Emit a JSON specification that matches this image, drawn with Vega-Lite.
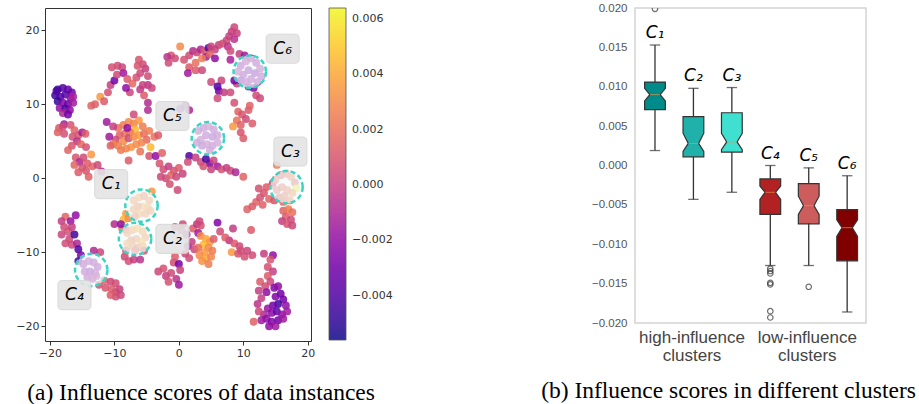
{
  "$schema": "https://vega.github.io/schema/vega-lite/v6.json",
  "background": "white",
  "padding": {"left": 15, "top": 1, "right": 0, "bottom": 0},
  "bounds": "flush",
  "spacing": 324,
  "config": {"font": "DejaVu Sans", "axis": {"labelOverlap": false}},
  "resolve": {"legend": {"color": "independent"}, "scale": {"color": "independent"}},
  "hconcat": [
    {
      "width": 266,
      "height": 333,
      "view": {"stroke": "#333", "strokeWidth": 1},
      "title": {"text": "(a) Influence scores of data instances", "orient": "bottom", "anchor": "middle", "frame": "group", "font": "Liberation Serif", "fontSize": 23.5, "fontWeight": "normal", "color": "#000", "dx": 23, "offset": 23},
      "layer": [
        {
          "data": {"values": [
            {"x":-18.8,"y":12.0,"s":-0.0045},{"x":-18.0,"y":12.2,"s":-0.004},{"x":-17.2,"y":12.0,"s":-0.0035},{"x":-16.6,"y":11.6,"s":-0.003},{"x":-19.2,"y":11.2,"s":-0.0045},{"x":-18.4,"y":11.0,"s":-0.004},{"x":-17.6,"y":11.3,"s":-0.0038},{"x":-16.8,"y":10.8,"s":-0.002},{"x":-18.8,"y":10.4,"s":-0.0048},{"x":-18.0,"y":10.2,"s":-0.0025},{"x":-17.2,"y":10.0,"s":-0.003},{"x":-16.4,"y":10.2,"s":-0.0015},{"x":-18.5,"y":9.5,"s":-0.002},{"x":-17.6,"y":9.4,"s":-0.0042},{"x":-16.9,"y":9.2,"s":-0.002},{"x":-18.0,"y":8.8,"s":-0.001},{"x":-17.2,"y":8.6,"s":-0.003},{"x":-19.0,"y":11.8,"s":-0.004},{"x":-16.4,"y":11.0,"s":-0.0012},{"x":-17.8,"y":7.3,"s":-0.0015},
            {"x":-18.6,"y":6.8,"s":0.0012},{"x":-18.0,"y":7.0,"s":0.0005},{"x":-18.8,"y":6.2,"s":0.0015},{"x":-17.8,"y":6.0,"s":0.0008},{"x":-16.8,"y":7.2,"s":0.001},{"x":-16.2,"y":6.5,"s":0.0015},{"x":-16.5,"y":5.6,"s":0.0008},{"x":-15.6,"y":5.8,"s":0.001},{"x":-15.0,"y":6.2,"s":-0.0015},{"x":-15.8,"y":5.0,"s":-0.0005},{"x":-14.5,"y":6.0,"s":0.0012},{"x":-15.2,"y":4.6,"s":0.0018},{"x":-16.6,"y":4.4,"s":0.001},{"x":-17.2,"y":3.8,"s":0.0015},{"x":-14.4,"y":4.2,"s":0.0008},
            {"x":-16.0,"y":2.8,"s":0.001},{"x":-15.4,"y":2.2,"s":-0.001},{"x":-14.8,"y":2.8,"s":0.0005},{"x":-14.2,"y":2.0,"s":0.0012},{"x":-15.0,"y":1.4,"s":0.0008},{"x":-16.2,"y":1.8,"s":0.0016},{"x":-13.4,"y":1.6,"s":0.0015},{"x":-14.4,"y":1.0,"s":0.001},{"x":-13.6,"y":3.2,"s":0.0035},{"x":-15.6,"y":0.8,"s":0.0012},{"x":-12.6,"y":1.8,"s":0.0005},{"x":-14.0,"y":0.2,"s":0.0014},{"x":-12.0,"y":0.9,"s":-0.0008},
            {"x":-13.6,"y":9.8,"s":0.0016},{"x":-13.0,"y":10.0,"s":0.0014},{"x":-12.2,"y":11.0,"s":0.0035},{"x":-11.6,"y":10.4,"s":0.0012},{"x":-11.0,"y":11.6,"s":0.0008},{"x":-10.6,"y":12.6,"s":0.0},{"x":-10.0,"y":13.2,"s":-0.003},{"x":-9.6,"y":14.0,"s":0.0005},{"x":-10.4,"y":15.0,"s":0.0008},{"x":-9.5,"y":15.2,"s":0.0006},{"x":-8.8,"y":15.0,"s":0.0004},{"x":-8.6,"y":14.2,"s":-0.0015},{"x":-8.0,"y":13.4,"s":0.0012},{"x":-7.2,"y":12.8,"s":0.0018},{"x":-6.6,"y":13.6,"s":0.0008},{"x":-6.0,"y":14.2,"s":0.0004},{"x":-5.2,"y":14.8,"s":0.0},{"x":-5.6,"y":15.4,"s":0.0005},{"x":-6.4,"y":15.2,"s":0.001},{"x":-4.8,"y":13.8,"s":0.0006},{"x":-4.8,"y":12.6,"s":-0.0005},{"x":-5.6,"y":12.6,"s":0.0002},{"x":-6.0,"y":12.0,"s":-0.0002},{"x":-4.2,"y":12.2,"s":0.0003},{"x":-5.4,"y":11.2,"s":0.0012},{"x":-4.8,"y":10.2,"s":-0.0008},{"x":-4.8,"y":9.2,"s":-0.0008},{"x":-7.6,"y":11.6,"s":0.0004},{"x":-8.2,"y":12.2,"s":-0.002},{"x":-6.2,"y":16.0,"s":0.001},
            {"x":-9.4,"y":6.8,"s":0.002},{"x":-8.6,"y":7.2,"s":0.0025},{"x":-7.8,"y":7.6,"s":0.003},{"x":-7.0,"y":7.4,"s":0.0028},{"x":-6.2,"y":7.8,"s":0.0035},{"x":-5.6,"y":7.0,"s":0.0025},{"x":-6.8,"y":6.6,"s":0.0045},{"x":-7.6,"y":6.2,"s":0.0022},{"x":-8.4,"y":6.0,"s":0.002},{"x":-9.2,"y":5.8,"s":0.0015},{"x":-9.8,"y":5.2,"s":0.0005},{"x":-10.2,"y":4.6,"s":0.003},{"x":-9.4,"y":4.4,"s":0.0025},{"x":-8.6,"y":5.0,"s":0.003},{"x":-7.8,"y":5.4,"s":0.0005},{"x":-7.0,"y":5.6,"s":0.003},{"x":-6.2,"y":5.8,"s":0.0035},{"x":-5.4,"y":6.0,"s":0.002},{"x":-4.6,"y":6.4,"s":0.0025},{"x":-5.0,"y":5.2,"s":0.0018},{"x":-5.8,"y":4.8,"s":0.0028},{"x":-6.6,"y":4.6,"s":0.003},{"x":-7.4,"y":4.2,"s":0.0032},{"x":-8.2,"y":4.0,"s":0.0028},{"x":-9.0,"y":3.8,"s":0.0025},{"x":-6.0,"y":3.6,"s":0.0022},{"x":-4.4,"y":4.2,"s":0.0045},{"x":-3.8,"y":5.6,"s":0.0022},{"x":-3.2,"y":5.8,"s":0.0012},{"x":-7.0,"y":8.6,"s":0.0005},{"x":-8.0,"y":6.8,"s":-0.002},{"x":-4.6,"y":3.0,"s":0.0008},{"x":-7.8,"y":2.4,"s":0.0012},{"x":-10.6,"y":4.4,"s":0.0015},{"x":-11.2,"y":7.6,"s":-0.0015},{"x":-10.8,"y":5.6,"s":-0.0015},{"x":-10.2,"y":7.0,"s":0.0},
            {"x":0.2,"y":17.8,"s":0.003},{"x":-1.2,"y":16.6,"s":0.001},{"x":-0.6,"y":16.2,"s":0.0005},{"x":-1.8,"y":16.4,"s":-0.0005},{"x":0.8,"y":16.0,"s":0.0008},{"x":1.6,"y":16.6,"s":0.0006},{"x":2.2,"y":17.2,"s":-0.0008},{"x":2.8,"y":17.0,"s":0.0004},{"x":3.4,"y":17.4,"s":-0.001},{"x":4.0,"y":17.2,"s":0.0012},{"x":4.6,"y":17.6,"s":-0.004},{"x":5.0,"y":17.8,"s":0.0004},{"x":5.6,"y":17.4,"s":0.0002},{"x":6.2,"y":18.0,"s":0.0},{"x":6.8,"y":18.2,"s":0.0008},{"x":7.4,"y":18.6,"s":0.0004},{"x":7.8,"y":19.2,"s":0.0002},{"x":8.2,"y":19.8,"s":0.0},{"x":8.6,"y":20.4,"s":0.0004},{"x":9.0,"y":19.6,"s":0.0002},{"x":8.6,"y":18.8,"s":-0.0005},{"x":7.6,"y":17.8,"s":-0.0005},{"x":4.2,"y":16.4,"s":-0.0015},{"x":3.6,"y":16.2,"s":0.0025},{"x":2.6,"y":15.6,"s":0.002},{"x":1.6,"y":15.0,"s":0.0012},{"x":1.4,"y":14.2,"s":-0.0015},{"x":2.6,"y":14.6,"s":0.0012},{"x":3.6,"y":14.6,"s":0.0004},{"x":-1.6,"y":15.6,"s":0.0005},{"x":4.8,"y":16.8,"s":0.0015},{"x":5.6,"y":16.2,"s":-0.002},{"x":8.0,"y":16.0,"s":-0.0012},{"x":9.4,"y":16.8,"s":0.0},{"x":8.0,"y":17.2,"s":0.0005},
            {"x":5.0,"y":13.0,"s":0.0005},{"x":6.6,"y":13.2,"s":0.0003},{"x":6.0,"y":12.4,"s":-0.004},{"x":6.2,"y":11.8,"s":-0.003},{"x":7.0,"y":11.6,"s":0.0},{"x":6.0,"y":10.8,"s":0.0006},{"x":8.0,"y":11.6,"s":0.0005},{"x":9.0,"y":12.8,"s":0.0002},{"x":8.6,"y":10.2,"s":0.0008},{"x":8.6,"y":13.2,"s":-0.003},
            {"x":9.2,"y":9.0,"s":0.0015},{"x":9.8,"y":8.6,"s":0.001},{"x":10.4,"y":8.0,"s":0.0005},{"x":9.0,"y":7.8,"s":0.002},{"x":8.4,"y":7.0,"s":0.0035},{"x":9.6,"y":7.2,"s":0.0015},{"x":11.4,"y":7.4,"s":0.0012},{"x":10.8,"y":9.2,"s":0.0012},{"x":12.0,"y":11.2,"s":0.0006},{"x":12.6,"y":10.8,"s":0.0005},{"x":9.6,"y":6.2,"s":0.001},{"x":10.0,"y":5.4,"s":0.0012},{"x":11.0,"y":9.8,"s":0.0015},
            {"x":9.6,"y":15.2,"s":-0.002},{"x":10.4,"y":15.8,"s":-0.0015},{"x":11.2,"y":16.2,"s":-0.0018},{"x":12.0,"y":15.6,"s":-0.002},{"x":12.6,"y":14.8,"s":-0.0015},{"x":11.8,"y":14.2,"s":-0.003},{"x":10.8,"y":14.6,"s":-0.0025},{"x":10.0,"y":14.0,"s":-0.002},{"x":9.6,"y":13.2,"s":-0.003},{"x":10.4,"y":13.0,"s":-0.0015},{"x":11.2,"y":13.4,"s":-0.002},{"x":12.2,"y":13.0,"s":-0.0018},{"x":11.6,"y":12.2,"s":-0.0025},{"x":10.8,"y":12.4,"s":-0.0015},{"x":12.8,"y":13.8,"s":-0.002},{"x":9.2,"y":14.4,"s":-0.0012},{"x":10.2,"y":16.6,"s":-0.0015},
            {"x":3.0,"y":6.4,"s":-0.0015},{"x":3.8,"y":6.8,"s":-0.002},{"x":4.6,"y":7.0,"s":-0.0012},{"x":5.4,"y":6.6,"s":-0.002},{"x":6.0,"y":5.8,"s":-0.0018},{"x":5.2,"y":5.6,"s":-0.0025},{"x":4.2,"y":5.8,"s":-0.002},{"x":3.4,"y":5.2,"s":-0.0015},{"x":2.8,"y":4.8,"s":-0.002},{"x":3.6,"y":4.4,"s":-0.0025},{"x":4.4,"y":4.6,"s":-0.0015},{"x":5.2,"y":4.4,"s":-0.0018},{"x":6.0,"y":4.8,"s":-0.0015},{"x":4.8,"y":3.8,"s":-0.002},{"x":1.0,"y":9.8,"s":-0.0015},{"x":0.2,"y":9.4,"s":-0.002},{"x":1.6,"y":9.2,"s":-0.001},
            {"x":1.6,"y":3.0,"s":-0.004},{"x":2.6,"y":2.8,"s":0.0},{"x":3.4,"y":2.2,"s":0.0005},{"x":4.2,"y":2.6,"s":-0.0045},{"x":4.8,"y":2.0,"s":-0.003},{"x":5.4,"y":2.4,"s":0.0004},{"x":6.0,"y":1.6,"s":-0.0015},{"x":6.6,"y":1.2,"s":0.0008},{"x":7.4,"y":1.4,"s":0.0},{"x":8.0,"y":1.0,"s":0.0005},{"x":8.8,"y":0.8,"s":-0.001},{"x":10.0,"y":0.2,"s":0.0015},{"x":5.0,"y":1.2,"s":0.0002},{"x":3.8,"y":1.6,"s":0.0008},
            {"x":-3.0,"y":2.0,"s":0.001},{"x":-2.4,"y":1.2,"s":0.0006},{"x":-1.6,"y":1.6,"s":0.0},{"x":-0.8,"y":1.0,"s":0.0008},{"x":0.0,"y":1.4,"s":0.0012},{"x":-2.8,"y":0.2,"s":0.0004},{"x":-2.0,"y":0.0,"s":0.0005},{"x":-1.2,"y":0.4,"s":0.0016},{"x":-0.4,"y":0.2,"s":0.0004},{"x":0.6,"y":0.6,"s":0.0002},{"x":-1.4,"y":-0.8,"s":0.0008},{"x":-0.2,"y":-1.6,"s":0.0005},{"x":-3.6,"y":3.0,"s":-0.002},{"x":1.4,"y":2.2,"s":0.0006},{"x":-2.6,"y":3.4,"s":0.0015},
            {"x":10.6,"y":-4.2,"s":0.0015},{"x":11.4,"y":-3.8,"s":0.0012},{"x":12.0,"y":-3.2,"s":0.0015},{"x":12.6,"y":-2.6,"s":0.0008},{"x":13.2,"y":-2.0,"s":0.001},{"x":13.6,"y":-1.2,"s":0.0012},{"x":14.4,"y":-1.0,"s":0.0018},{"x":13.0,"y":-3.6,"s":0.0014},{"x":14.0,"y":-2.8,"s":0.0016},{"x":14.8,"y":-3.0,"s":0.001},{"x":12.4,"y":-1.4,"s":0.0008},{"x":14.6,"y":-0.6,"s":0.0003},{"x":11.2,"y":-7.0,"s":0.0012},{"x":15.2,"y":1.8,"s":0.0025},
            {"x":15.0,"y":-0.2,"s":0.002},{"x":15.8,"y":0.4,"s":0.0015},{"x":16.6,"y":0.6,"s":0.002},{"x":17.4,"y":0.2,"s":0.0025},{"x":18.0,"y":-0.6,"s":0.0015},{"x":18.2,"y":-1.4,"s":0.006},{"x":17.6,"y":-2.0,"s":0.003},{"x":16.8,"y":-1.6,"s":0.0025},{"x":16.0,"y":-1.2,"s":0.002},{"x":15.2,"y":-1.6,"s":0.0018},{"x":15.6,"y":-2.6,"s":0.0015},{"x":16.4,"y":-2.4,"s":0.002},{"x":17.2,"y":-3.0,"s":0.0025},{"x":16.2,"y":-3.2,"s":0.0018},
            {"x":16.2,"y":-4.4,"s":0.0015},{"x":17.0,"y":-4.2,"s":0.0025},{"x":17.6,"y":-4.6,"s":0.002},{"x":16.6,"y":-5.2,"s":0.0012},{"x":17.4,"y":-5.6,"s":0.0005},{"x":16.0,"y":-5.8,"s":0.0},{"x":16.8,"y":-6.2,"s":0.0008},{"x":17.6,"y":-6.4,"s":0.0004},
            {"x":-8.2,"y":-4.8,"s":0.0035},{"x":-8.6,"y":-5.6,"s":0.0045},{"x":-7.8,"y":-5.4,"s":0.003},{"x":-8.8,"y":-6.8,"s":0.002},{"x":-8.2,"y":-7.0,"s":0.0008},{"x":-4.2,"y":-1.8,"s":0.0035},{"x":-10.0,"y":-6.2,"s":-0.0008},
            {"x":-7.0,"y":-3.0,"s":0.003},{"x":-6.2,"y":-2.6,"s":0.0035},{"x":-5.4,"y":-2.4,"s":0.0025},{"x":-4.6,"y":-3.0,"s":0.003},{"x":-4.8,"y":-4.0,"s":0.0035},{"x":-5.6,"y":-3.8,"s":0.004},{"x":-6.4,"y":-3.8,"s":0.0025},{"x":-7.0,"y":-4.2,"s":0.003},{"x":-6.2,"y":-4.8,"s":0.0035},{"x":-5.2,"y":-4.8,"s":0.0028},{"x":-4.4,"y":-4.4,"s":0.003},{"x":-6.8,"y":-5.2,"s":0.0022},
            {"x":-8.0,"y":-7.4,"s":0.003},{"x":-7.2,"y":-7.0,"s":0.0035},{"x":-6.4,"y":-6.8,"s":0.004},{"x":-5.6,"y":-7.2,"s":0.0035},{"x":-5.2,"y":-8.0,"s":0.003},{"x":-5.8,"y":-8.6,"s":0.0045},{"x":-6.6,"y":-8.2,"s":0.003},{"x":-7.4,"y":-8.4,"s":0.0025},{"x":-8.0,"y":-8.8,"s":0.0035},{"x":-7.2,"y":-9.2,"s":0.003},{"x":-6.4,"y":-9.4,"s":0.002},{"x":-5.6,"y":-9.2,"s":0.0035},{"x":-6.8,"y":-9.8,"s":0.0015},{"x":-5.4,"y":-9.8,"s":0.001},
            {"x":-8.4,"y":-10.6,"s":0.0004},{"x":-7.8,"y":-11.2,"s":0.0008},{"x":-7.0,"y":-11.0,"s":0.0},{"x":-6.0,"y":-11.0,"s":-0.0005},{"x":-8.2,"y":-9.8,"s":0.0012},{"x":-9.0,"y":-6.2,"s":-0.002},
            {"x":-3.2,"y":-12.6,"s":0.0004},{"x":-2.4,"y":-12.2,"s":0.0008},{"x":-2.0,"y":-13.2,"s":0.0},{"x":-1.2,"y":-12.8,"s":0.0005},{"x":-1.6,"y":-14.0,"s":0.0008},{"x":-0.4,"y":-13.6,"s":-0.0005},{"x":0.0,"y":-14.4,"s":-0.0015},{"x":-0.8,"y":-11.4,"s":0.0006},{"x":0.0,"y":-11.6,"s":-0.003},{"x":-0.6,"y":-10.6,"s":0.0012},{"x":0.2,"y":-12.4,"s":0.0002},{"x":1.0,"y":-10.2,"s":0.0004},{"x":1.4,"y":-9.2,"s":-0.0015},{"x":2.0,"y":-8.6,"s":0.0},{"x":1.2,"y":-7.6,"s":-0.001},{"x":0.4,"y":-7.0,"s":0.001},{"x":-0.6,"y":-6.6,"s":0.0008},{"x":0.6,"y":-6.2,"s":0.0005},{"x":2.2,"y":-6.8,"s":0.0012},{"x":2.8,"y":-6.2,"s":-0.0003},{"x":3.4,"y":-6.4,"s":0.0008},{"x":3.0,"y":-7.4,"s":-0.0015},{"x":2.4,"y":-9.6,"s":0.0004},{"x":1.6,"y":-10.8,"s":0.0005},{"x":3.2,"y":-5.8,"s":0.0004},
            {"x":3.4,"y":-7.8,"s":0.003},{"x":4.2,"y":-8.2,"s":0.004},{"x":4.8,"y":-8.6,"s":0.0035},{"x":3.8,"y":-9.0,"s":0.0045},{"x":4.6,"y":-9.4,"s":0.003},{"x":5.2,"y":-9.8,"s":0.0025},{"x":4.0,"y":-10.0,"s":0.0035},{"x":3.2,"y":-10.4,"s":0.003},{"x":4.2,"y":-10.8,"s":0.004},{"x":5.0,"y":-10.6,"s":0.0028},{"x":3.6,"y":-11.2,"s":0.0032},{"x":4.6,"y":-11.6,"s":0.0025},{"x":3.0,"y":-9.4,"s":0.002},{"x":5.4,"y":-8.2,"s":0.0012},{"x":6.0,"y":-6.0,"s":-0.0025},
            {"x":8.4,"y":-6.8,"s":0.0},{"x":7.8,"y":-8.4,"s":-0.0005},{"x":8.6,"y":-8.8,"s":0.0012},{"x":9.4,"y":-9.2,"s":0.0005},{"x":8.2,"y":-10.0,"s":0.0035},{"x":9.2,"y":-10.2,"s":0.0008},{"x":10.2,"y":-10.6,"s":0.0008},{"x":11.4,"y":-10.4,"s":0.0006},{"x":10.6,"y":-9.8,"s":0.0003},{"x":9.6,"y":-9.8,"s":0.0006},{"x":7.2,"y":-8.0,"s":0.0012},{"x":6.4,"y":-7.2,"s":0.0006},
            {"x":13.2,"y":-10.2,"s":0.0},{"x":14.6,"y":-10.4,"s":-0.002},{"x":14.2,"y":-11.0,"s":0.001},{"x":13.8,"y":-12.0,"s":0.0008},{"x":14.6,"y":-12.6,"s":0.0},{"x":13.8,"y":-13.2,"s":0.0012},{"x":14.2,"y":-14.0,"s":0.0004},{"x":12.6,"y":-14.0,"s":0.0012},{"x":13.4,"y":-14.6,"s":0.0006},{"x":12.4,"y":-15.2,"s":0.0},{"x":13.6,"y":-15.4,"s":-0.002},{"x":14.8,"y":-14.8,"s":-0.0025},{"x":15.4,"y":-14.6,"s":-0.002},{"x":15.8,"y":-15.6,"s":-0.003},{"x":15.0,"y":-16.0,"s":-0.0025},{"x":16.2,"y":-16.4,"s":-0.003},{"x":15.4,"y":-17.0,"s":-0.0045},{"x":16.6,"y":-17.2,"s":-0.002},{"x":14.6,"y":-17.2,"s":-0.003},{"x":13.8,"y":-17.6,"s":-0.0018},{"x":14.4,"y":-18.2,"s":-0.0022},{"x":15.2,"y":-18.0,"s":-0.0035},{"x":16.0,"y":-18.4,"s":-0.002},{"x":13.2,"y":-18.4,"s":-0.001},{"x":12.4,"y":-18.0,"s":0.0004},{"x":12.8,"y":-19.2,"s":-0.0015},{"x":13.6,"y":-19.0,"s":-0.002},{"x":14.4,"y":-19.4,"s":-0.0025},{"x":15.4,"y":-19.2,"s":-0.003},{"x":16.2,"y":-19.0,"s":-0.0015},{"x":15.0,"y":-20.0,"s":-0.0015},{"x":14.0,"y":-20.0,"s":-0.002},{"x":11.6,"y":-19.4,"s":0.0015},{"x":12.2,"y":-17.0,"s":-0.0005},{"x":16.8,"y":-18.0,"s":-0.0015},{"x":12.8,"y":-16.2,"s":0.0},
            {"x":-17.6,"y":-5.2,"s":0.0015},{"x":-18.2,"y":-5.8,"s":0.0},{"x":-16.8,"y":-5.8,"s":-0.0018},{"x":-17.8,"y":-6.6,"s":0.0006},{"x":-17.2,"y":-7.2,"s":0.0008},{"x":-18.2,"y":-7.6,"s":0.0003},{"x":-17.0,"y":-8.2,"s":0.0004},{"x":-16.2,"y":-7.6,"s":-0.0045},{"x":-16.6,"y":-6.6,"s":0.0},{"x":-17.6,"y":-8.8,"s":0.0006},{"x":-16.6,"y":-9.0,"s":0.0004},{"x":-15.8,"y":-8.8,"s":-0.001},{"x":-15.6,"y":-9.6,"s":-0.004},{"x":-15.2,"y":-10.4,"s":-0.0025},{"x":-15.6,"y":-11.2,"s":-0.0045},{"x":-16.0,"y":-5.0,"s":-0.002},
            {"x":-14.8,"y":-11.6,"s":-0.002},{"x":-14.0,"y":-11.2,"s":-0.0015},{"x":-13.2,"y":-11.4,"s":-0.0018},{"x":-12.6,"y":-12.0,"s":-0.002},{"x":-13.0,"y":-12.8,"s":-0.0015},{"x":-13.8,"y":-12.6,"s":-0.0025},{"x":-14.6,"y":-12.6,"s":-0.002},{"x":-14.2,"y":-13.4,"s":-0.0018},{"x":-13.4,"y":-13.6,"s":-0.0015},{"x":-12.8,"y":-13.2,"s":-0.001},
            {"x":-12.2,"y":-10.0,"s":0.0004},{"x":-13.2,"y":-9.8,"s":-0.0008},{"x":-12.4,"y":-14.4,"s":0.0008},{"x":-11.6,"y":-13.8,"s":0.0015},{"x":-10.6,"y":-14.0,"s":0.0004},{"x":-9.8,"y":-14.2,"s":0.0006},{"x":-10.4,"y":-15.0,"s":0.0012},{"x":-9.8,"y":-15.4,"s":0.0008},{"x":-9.2,"y":-15.0,"s":0.0002},{"x":-9.0,"y":-15.8,"s":0.0004},{"x":-9.8,"y":-16.0,"s":0.0006},{"x":-10.6,"y":-15.8,"s":0.0012},{"x":-11.4,"y":-14.8,"s":0.001}
          ]},
          "mark": {"type": "circle", "size": 62, "opacity": 0.85},
          "encoding": {
            "x": {"field": "x", "type": "quantitative", "scale": {"domain": [-20.77, 20.5], "nice": false, "zero": false},
                  "axis": {"title": null, "values": [-20, -10, 0, 10, 20], "grid": false, "domain": false, "tickColor": "#333", "tickSize": 4, "labelFont": "DejaVu Sans", "labelFontSize": 11, "labelColor": "#333", "labelExpr": "replace(datum.label, '-', '−')"}},
            "y": {"field": "y", "type": "quantitative", "scale": {"domain": [-22, 23], "nice": false, "zero": false},
                  "axis": {"title": null, "values": [-20, -10, 0, 10, 20], "grid": false, "domain": false, "tickColor": "#333", "tickSize": 4, "labelFont": "DejaVu Sans", "labelFontSize": 11, "labelColor": "#333", "labelExpr": "replace(datum.label, '-', '−')"}},
            "color": {"field": "s", "type": "quantitative", "scale": {"scheme": "plasma", "domain": [-0.0056, 0.0064]},
                      "legend": {"title": null, "orient": "right", "direction": "vertical", "gradientLength": 332, "gradientThickness": 17, "offset": 18, "values": [-0.004, -0.002, 0, 0.002, 0.004, 0.006], "labelExpr": "replace(format(datum.value, '.3f'), '-', '−')", "labelFont": "DejaVu Sans", "labelFontSize": 11, "labelColor": "#333", "gradientStrokeColor": "#333", "gradientStrokeWidth": 0.8, "labelOffset": 6, "padding": 0}}
          }
        },
        {
          "data": {"values": [
            {"c": "C6", "x": 11.0, "y": 14.4}, {"c": "C5", "x": 4.5, "y": 5.4}, {"c": "C3", "x": 16.7, "y": -1.2},
            {"c": "C1", "x": -5.8, "y": -3.7}, {"c": "C2", "x": -6.8, "y": -8.2}, {"c": "C4", "x": -13.6, "y": -12.4}
          ]},
          "mark": {"type": "point", "shape": "circle", "filled": false, "size": 1050, "fill": "#f2fbfa", "fillOpacity": 0.68, "stroke": "#3dd3c2", "strokeWidth": 2.5, "strokeDash": [5, 3], "opacity": 1},
          "encoding": {"x": {"field": "x", "type": "quantitative"}, "y": {"field": "y", "type": "quantitative"}}
        },
        {
          "data": {"values": [
            {"c": "C₆", "x": 16.1, "y": 17.5}, {"c": "C₅", "x": -1.0, "y": 8.4}, {"c": "C₃", "x": 17.3, "y": 3.6},
            {"c": "C₁", "x": -10.5, "y": -0.8}, {"c": "C₂", "x": -1.0, "y": -8.2}, {"c": "C₄", "x": -16.2, "y": -15.8}
          ]},
          "layer": [
            {
              "mark": {"type": "point", "shape": "M-0.75,-0.88 L0.75,-0.88 Q1,-0.88 1,-0.63 L1,0.63 Q1,0.88 0.75,0.88 L-0.75,0.88 Q-1,0.88 -1,0.63 L-1,-0.63 Q-1,-0.88 -0.75,-0.88 Z", "filled": true, "size": 1090, "color": "#e4e4e4", "opacity": 0.9, "stroke": "#d6d6d6", "strokeWidth": 1},
              "encoding": {"x": {"field": "x", "type": "quantitative"}, "y": {"field": "y", "type": "quantitative"}}
            },
            {
              "mark": {"type": "text", "font": "DejaVu Sans", "fontStyle": "italic", "fontSize": 17, "color": "#000", "align": "center", "baseline": "middle"},
              "encoding": {"x": {"field": "x", "type": "quantitative"}, "y": {"field": "y", "type": "quantitative"}, "text": {"field": "c"}}
            }
          ]
        }
      ]
    },
    {
      "width": 231,
      "height": 315,
      "view": {"stroke": "#d4d4d4", "strokeWidth": 1.5},
      "title": {"text": "(b) Influence scores in different clusters", "orient": "bottom", "anchor": "middle", "frame": "group", "font": "Liberation Serif", "fontSize": 23.5, "fontWeight": "normal", "color": "#000", "dx": -22, "offset": 16},
      "data": {"values": [
        {"c": "C1", "lab": "C₁", "i": 1, "lo": 0.0019, "q1": 0.0071, "nlo": 0.0082, "med": 0.0090, "nhi": 0.0098, "q3": 0.0106, "hi": 0.0153},
        {"c": "C2", "lab": "C₂", "i": 2, "lo": -0.0043, "q1": 0.0011, "nlo": 0.0018, "med": 0.0028, "nhi": 0.0041, "q3": 0.0062, "hi": 0.0098},
        {"c": "C3", "lab": "C₃", "i": 3, "lo": -0.0034, "q1": 0.0017, "nlo": 0.0020, "med": 0.0030, "nhi": 0.0041, "q3": 0.0067, "hi": 0.0099},
        {"c": "C4", "lab": "C₄", "i": 4, "lo": -0.0127, "q1": -0.0062, "nlo": -0.0043, "med": -0.0034, "nhi": -0.0026, "q3": -0.0017, "hi": 0.0000},
        {"c": "C5", "lab": "C₅", "i": 5, "lo": -0.0127, "q1": -0.0074, "nlo": -0.0062, "med": -0.0051, "nhi": -0.0039, "q3": -0.0023, "hi": -0.0003},
        {"c": "C6", "lab": "C₆", "i": 6, "lo": -0.0186, "q1": -0.0121, "nlo": -0.0090, "med": -0.0079, "nhi": -0.0069, "q3": -0.0056, "hi": -0.0013}
      ]},
      "layer": [
        {
          "mark": {"type": "rule", "color": "#333", "strokeWidth": 1.3},
          "encoding": {
            "x": {"field": "i", "type": "quantitative", "scale": {"domain": [0.48, 6.49], "nice": false, "zero": false},
                  "axis": {"title": null, "values": [1.95, 4.95], "ticks": false, "domain": false, "grid": false, "labelFont": "Liberation Sans", "labelFontSize": 17, "labelColor": "#444", "labelPadding": 6, "labelLineHeight": 18, "labelOverlap": false, "labelExpr": "datum.value < 3 ? ['high-influence', 'clusters'] : ['low-influence', 'clusters']"}},
            "y": {"field": "lo", "type": "quantitative", "scale": {"domain": [-0.02, 0.02], "nice": false, "zero": false},
                  "axis": {"title": null, "values": [-0.02, -0.015, -0.01, -0.005, 0, 0.005, 0.01, 0.015, 0.02], "ticks": false, "domain": false, "grid": false, "labelFont": "Liberation Sans", "labelFontSize": 11.5, "labelColor": "#555", "labelPadding": 8, "labelOverlap": false, "labelExpr": "replace(format(datum.value, '.3f'), '-', '−')"}},
            "y2": {"field": "hi"}
          }
        },
        {
          "mark": {"type": "tick", "orient": "horizontal", "color": "#333", "size": 10.4, "thickness": 1.3},
          "encoding": {"x": {"field": "i", "type": "quantitative"}, "y": {"field": "lo", "type": "quantitative", "axis": {"title": null, "values": [-0.02, -0.015, -0.01, -0.005, 0, 0.005, 0.01, 0.015, 0.02], "ticks": false, "domain": false, "grid": false, "labelFont": "Liberation Sans", "labelFontSize": 11.5, "labelColor": "#555", "labelPadding": 8, "labelOverlap": false, "labelExpr": "replace(format(datum.value, '.3f'), '-', '−')"}}}
        },
        {
          "mark": {"type": "tick", "orient": "horizontal", "color": "#333", "size": 10.4, "thickness": 1.3},
          "encoding": {"x": {"field": "i", "type": "quantitative"}, "y": {"field": "hi", "type": "quantitative", "axis": {"title": null, "values": [-0.02, -0.015, -0.01, -0.005, 0, 0.005, 0.01, 0.015, 0.02], "ticks": false, "domain": false, "grid": false, "labelFont": "Liberation Sans", "labelFontSize": 11.5, "labelColor": "#555", "labelPadding": 8, "labelOverlap": false, "labelExpr": "replace(format(datum.value, '.3f'), '-', '−')"}}}
        },
        {
          "transform": [
            {"fold": ["q1", "nlo", "med", "nhi", "q3"], "as": ["key", "val"]},
            {"calculate": "datum.key == 'med' ? 0.135 : 0.27", "as": "hw"},
            {"calculate": "datum.i - datum.hw", "as": "xl"},
            {"calculate": "datum.i + datum.hw", "as": "xr"}
          ],
          "mark": {"type": "area", "orient": "horizontal", "stroke": "#333", "strokeWidth": 1.2, "opacity": 1},
          "encoding": {
            "y": {"field": "val", "type": "quantitative", "axis": {"title": null, "values": [-0.02, -0.015, -0.01, -0.005, 0, 0.005, 0.01, 0.015, 0.02], "ticks": false, "domain": false, "grid": false, "labelFont": "Liberation Sans", "labelFontSize": 11.5, "labelColor": "#555", "labelPadding": 8, "labelOverlap": false, "labelExpr": "replace(format(datum.value, '.3f'), '-', '−')"}},
            "x": {"field": "xl", "type": "quantitative"},
            "x2": {"field": "xr"},
            "fill": {"field": "c", "type": "nominal", "scale": {"domain": ["C1", "C2", "C3", "C4", "C5", "C6"], "range": ["#008b8b", "#20b2aa", "#40e0d0", "#b22222", "#cd5c5c", "#800000"]}, "legend": null},
            "detail": {"field": "c"}
          }
        },
        {
          "mark": {"type": "tick", "orient": "horizontal", "color": "#e8914a", "size": 10, "thickness": 1},
          "encoding": {"x": {"field": "i", "type": "quantitative"}, "y": {"field": "med", "type": "quantitative", "axis": {"title": null, "values": [-0.02, -0.015, -0.01, -0.005, 0, 0.005, 0.01, 0.015, 0.02], "ticks": false, "domain": false, "grid": false, "labelFont": "Liberation Sans", "labelFontSize": 11.5, "labelColor": "#555", "labelPadding": 8, "labelOverlap": false, "labelExpr": "replace(format(datum.value, '.3f'), '-', '−')"}}}
        },
        {
          "mark": {"type": "text", "font": "DejaVu Sans", "fontStyle": "italic", "fontSize": 17, "color": "#000", "align": "center", "baseline": "bottom", "dy": -3},
          "encoding": {"x": {"field": "i", "type": "quantitative"}, "y": {"field": "hi", "type": "quantitative", "axis": {"title": null, "values": [-0.02, -0.015, -0.01, -0.005, 0, 0.005, 0.01, 0.015, 0.02], "ticks": false, "domain": false, "grid": false, "labelFont": "Liberation Sans", "labelFontSize": 11.5, "labelColor": "#555", "labelPadding": 8, "labelOverlap": false, "labelExpr": "replace(format(datum.value, '.3f'), '-', '−')"}}, "text": {"field": "lab"}}
        },
        {
          "data": {"values": [
            {"i": 1, "v": 0.0199},
            {"i": 4, "v": -0.0131}, {"i": 4, "v": -0.0134}, {"i": 4, "v": -0.0137}, {"i": 4, "v": -0.0149}, {"i": 4, "v": -0.0151}, {"i": 4, "v": -0.0185}, {"i": 4, "v": -0.0193},
            {"i": 5, "v": -0.0154}
          ]},
          "mark": {"type": "point", "shape": "circle", "filled": false, "color": "#333", "size": 30, "strokeWidth": 1.2, "clip": true},
          "encoding": {"x": {"field": "i", "type": "quantitative"}, "y": {"field": "v", "type": "quantitative", "axis": {"title": null, "values": [-0.02, -0.015, -0.01, -0.005, 0, 0.005, 0.01, 0.015, 0.02], "ticks": false, "domain": false, "grid": false, "labelFont": "Liberation Sans", "labelFontSize": 11.5, "labelColor": "#555", "labelPadding": 8, "labelOverlap": false, "labelExpr": "replace(format(datum.value, '.3f'), '-', '−')"}}}
        }
      ]
    }
  ]
}
